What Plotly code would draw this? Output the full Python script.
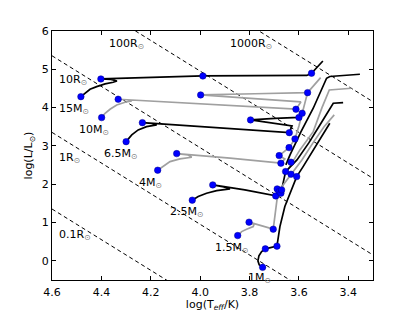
import math
import plotly.graph_objects as go

# ---------------- data ----------------
# constant-radius reference lines (solar radii)
radii = [0.1, 1, 10, 100, 1000]
log_teff_sun = 3.7617
teff_span = [4.6, 3.3]

# evolutionary tracks: log Teff and log L/Lsun (None = break in the line)
m15_T = [4.483, 4.466, 4.446, 4.419, 4.385, 4.352, 4.337, 4.361, 4.402, 3.989, 3.758, 3.568, 3.549, 3.503]
m15_L = [4.286, 4.375, 4.479, 4.547, 4.618, 4.662, 4.696, 4.735, 4.748, 4.826, 4.840, 4.840, 4.897, 5.218]
m15_dotT = [4.483, 4.402, 3.989, 3.549]
m15_dotL = [4.286, 4.748, 4.826, 4.897]

m10_T = [4.399, 4.385, 4.365, 4.338, 4.304, 4.277, 4.296, 4.332, 4.001, 3.612, 3.592, 3.798, 3.998, 3.778, 3.565, 3.512]
m10_L = [3.739, 3.853, 3.958, 4.070, 4.140, 4.174, 4.206, 4.219, 4.114, 3.958, 4.148, 4.239, 4.331, 4.362, 4.391, 4.782]
m10_dotT = [4.399, 4.332, 3.612, 3.998, 3.565]
m10_dotL = [3.739, 4.219, 3.958, 4.331, 4.391]

m65_T = [4.300, 4.277, 4.251, 4.217, 4.176, 4.195, 4.234, 4.001, 3.639, 3.628, 3.717, 3.796, 3.697, 3.600, 3.587,
         None, 3.653, 3.636, 3.592, 3.542, 3.488, 3.475, 3.353]
m65_L = [3.112, 3.287, 3.418, 3.504, 3.548, 3.587, 3.608, 3.504, 3.347, 3.522, 3.600, 3.679, 3.718, 3.744, 3.853,
         None, 2.505, 2.765, 3.365, 3.984, 4.766, 4.813, 4.871]
m65_dotT = [4.300, 4.234, 3.639, 3.796, 3.600, 3.587]
m65_dotL = [3.112, 3.608, 3.347, 3.679, 3.744, 3.853]

m4_T = [4.172, 4.149, 4.122, 4.082, 4.034, 4.049, 4.095, 3.879, 3.673, 3.657, 3.680, 3.640, 3.616, 3.600, 3.587, 3.576, 3.565,
        None, 3.645, 3.596, 3.542, 3.507, 3.477, 3.387]
m4_L = [2.366, 2.478, 2.591, 2.661, 2.705, 2.765, 2.799, 2.679, 2.549, 2.661, 2.747, 2.956, 3.183, 3.522, 3.853, 4.122, 4.391,
        None, 2.374, 2.896, 3.373, 3.992, 4.461, 4.506]
m4_dotT = [4.172, 4.095, 3.673, 3.680, 3.640, 3.616, 3.632]
m4_dotL = [2.366, 2.799, 2.549, 2.747, 2.956, 3.183, 2.575]

m25_T = [4.032, 4.008, 3.974, 3.933, 3.879, 3.904, 3.949, 3.819, 3.694, 3.685, 3.688, 3.680, 3.673, 3.670, 3.654,
         3.608, 3.560, 3.515, 3.461, 3.421]
m25_L = [1.584, 1.678, 1.766, 1.834, 1.878, 1.931, 1.983, 1.852, 1.696, 1.852, 1.878, 1.808, 1.766, 1.852, 2.330,
         2.635, 3.079, 3.548, 4.114, 4.130]
m25_dotT = [4.032, 3.949, 3.694, 3.688, 3.680, 3.673, 3.670, 3.654]
m25_dotL = [1.584, 1.983, 1.696, 1.878, 1.808, 1.766, 1.852, 2.330]

m15s_T = [3.848, 3.832, 3.812, 3.785, 3.782, 3.802, 3.704, 3.697, 3.689, 3.673, 3.632, 3.588, 3.543, 3.499, 3.457]
m15s_L = [0.660, 0.764, 0.827, 0.895, 0.952, 1.010, 0.827, 1.244, 1.591, 1.904, 2.262, 2.635, 3.079, 3.496, 3.809]
m15s_dotT = [3.848, 3.802, 3.704, 3.632]
m15s_dotL = [0.660, 1.010, 0.827, 2.262]

m1_T = [3.747, 3.761, 3.766, 3.762, 3.751, 3.736, 3.689, 3.677, 3.657, 3.623, 3.609, 3.583, 3.542, 3.507, 3.475]
m1_L = [-0.170, -0.104, 0.0, 0.130, 0.243, 0.313, 0.384, 0.895, 1.417, 1.938, 2.199, 2.460, 2.896, 3.287, 3.592]
m1_dotT = [3.747, 3.736, 3.689, 3.609]
m1_dotL = [-0.170, 0.313, 0.384, 2.199]

x_ticks = [4.6, 4.4, 4.2, 4.0, 3.8, 3.6, 3.4]
y_ticks = [0, 1, 2, 3, 4, 5, 6]

mass_labels = ["15M", "10M", "6.5M", "4M", "2.5M", "1.5M", "1M"]
radius_labels = ["0.1R", "1R", "10R", "100R", "1000R"]

# ---------------- layout / style (not data) ----------------
BLACK = "#000000"
GRAY = "#a0a0a0"
tracks = [
    (m15_T, m15_L, m15_dotT, m15_dotL, BLACK),
    (m10_T, m10_L, m10_dotT, m10_dotL, GRAY),
    (m65_T, m65_L, m65_dotT, m65_dotL, BLACK),
    (m4_T, m4_L, m4_dotT, m4_dotL, GRAY),
    (m25_T, m25_L, m25_dotT, m25_dotL, BLACK),
    (m15s_T, m15s_L, m15s_dotT, m15s_dotL, GRAY),
    (m1_T, m1_L, m1_dotT, m1_dotL, BLACK),
]
mass_label_pos = [(4.58, 3.96), (4.499, 3.42), (4.398, 2.79), (4.256, 2.03),
                  (4.130, 1.28), (3.948, 0.34), (3.815, -0.45)]
radius_label_pos = [(4.58, 0.68), (4.58, 2.69), (4.58, 4.72), (4.377, 5.66), (3.887, 5.66)]

fig = go.Figure()

for r in radii:
    ys = [2 * math.log10(r) + 4 * (t - log_teff_sun) for t in teff_span]
    fig.add_trace(go.Scatter(x=teff_span, y=ys, mode="lines",
                             line=dict(color="black", width=1, dash="4px,3px"),
                             hoverinfo="skip", showlegend=False))

for tT, tL, dT, dL, col in tracks:
    fig.add_trace(go.Scatter(x=tT, y=tL, mode="lines", connectgaps=False,
                             line=dict(color=col, width=1.7),
                             showlegend=False))

for tT, tL, dT, dL, col in tracks:
    fig.add_trace(go.Scatter(x=dT, y=dL, mode="markers",
                             marker=dict(color="#0000ff", size=6.5,
                                         line=dict(color="#00008b", width=0.5)),
                             showlegend=False))

sun = "<sub><span style='color:#777777'>⊙</span></sub>"
for txt, (px, py) in zip(mass_labels + radius_labels, mass_label_pos + radius_label_pos):
    fig.add_annotation(x=px, y=py, xref="x", yref="y", text=txt + sun,
                       showarrow=False, xanchor="left", yanchor="middle",
                       font=dict(size=11, color="black"))

axis_common = dict(showline=True, linecolor="black", linewidth=1, mirror="ticks",
                   ticks="inside", ticklen=4, tickwidth=1, tickcolor="black",
                   showgrid=False, zeroline=False, automargin=False,
                   tickfont=dict(size=11, color="black"))

# page body has an 8px margin, so the figure is 8px smaller and margins shifted
fig.update_layout(
    width=407, height=304,
    margin=dict(l=44, r=42, t=23, b=32),
    paper_bgcolor="white", plot_bgcolor="white",
    font=dict(family="DejaVu Sans", size=11, color="black"),
    xaxis=dict(range=[4.6, 3.3], tickvals=x_ticks,
               ticktext=["%.1f" % v for v in x_ticks],
               ticklabelstandoff=2,
               title=dict(text="log(T<sub><i>eff</i></sub>/K)", font=dict(size=11), standoff=2),
               **axis_common),
    yaxis=dict(range=[-0.5, 6], tickvals=y_ticks,
               ticktext=[str(v) for v in y_ticks],
               title=dict(text="log(L/L<sub>⊙</sub>)", font=dict(size=11), standoff=6),
               **axis_common),
)

fig.write_html("out.html")
